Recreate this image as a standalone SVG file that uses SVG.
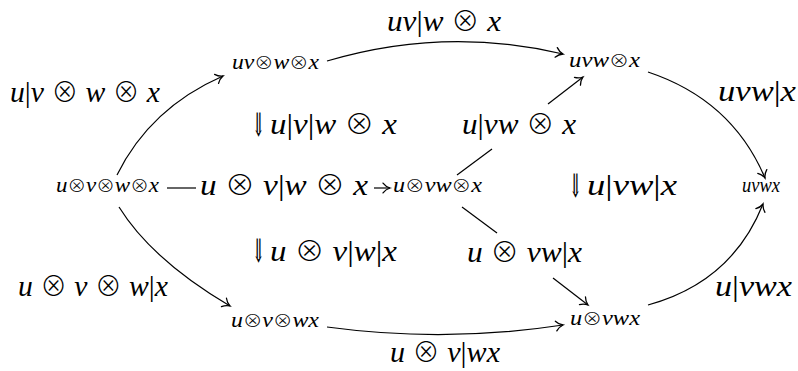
<svg xmlns="http://www.w3.org/2000/svg" width="798" height="371" viewBox="0 0 798 371">
<style>
.lbl{font-family:"Liberation Serif",serif;font-style:italic;font-size:30px;fill:#000}
.nd{font-family:"Liberation Serif",serif;font-style:italic;font-size:21px;fill:#000}
.op{font-style:normal;font-family:"Noto Sans CJK JP","Noto Sans CJK SC","DejaVu Sans",sans-serif;font-weight:300}
.lbl .op{font-size:27px}
.nd .op{font-size:17px}
.bar{font-style:normal}
.dar{font-family:"Liberation Serif","DejaVu Serif",serif;font-size:26px;fill:#000}
.c{fill:none;stroke:#000;stroke-width:1.2}
</style>
<defs>
<marker id="ah" markerUnits="userSpaceOnUse" markerWidth="14" markerHeight="14" viewBox="-8 -6 10 12" refX="0" refY="0" orient="auto">
<path d="M-6,-4.2 C-4,-1.6 -1.6,-0.5 0,0 C-1.6,0.5 -4,1.6 -6,4.2" fill="none" stroke="#000" stroke-width="1.1" stroke-linecap="round"/>
</marker>
</defs>
<g id="connectors">
<path class="c" d="M117,175 Q150,108 223,76" marker-end="url(#ah)"/>
<path class="c" d="M327,61 Q445,26 563,54" marker-end="url(#ah)"/>
<path class="c" d="M648,72 Q732,100 765,178" marker-end="url(#ah)"/>
<path class="c" d="M457,175 L492,149"/>
<path class="c" d="M548,104 L583,77" marker-end="url(#ah)"/>
<path class="c" d="M119,207 Q152,260 230,306" marker-end="url(#ah)"/>
<path class="c" d="M327,327 Q445,343 563,325" marker-end="url(#ah)"/>
<path class="c" d="M462,207 L497,233"/>
<path class="c" d="M553,278 L588,305" marker-end="url(#ah)"/>
<path class="c" d="M648,305 Q732,282 763,204" marker-end="url(#ah)"/>
<path class="c" d="M167,188 L196,188"/>
<path class="c" d="M374,188 L390,188" marker-end="url(#ah)"/>
</g>
<g id="n-uv-w-x"><text class="nd" x="232" y="69" textLength="87" lengthAdjust="spacingAndGlyphs">uv<tspan class="op">⊗</tspan>w<tspan class="op">⊗</tspan>x</text></g>
<g id="n-uvw-x"><text class="nd" x="569" y="67" textLength="71" lengthAdjust="spacingAndGlyphs">uvw<tspan class="op">⊗</tspan>x</text></g>
<g id="n-u-v-w-x"><text class="nd" x="56" y="192" textLength="103" lengthAdjust="spacingAndGlyphs">u<tspan class="op">⊗</tspan>v<tspan class="op">⊗</tspan>w<tspan class="op">⊗</tspan>x</text></g>
<g id="n-u-vw-x"><text class="nd" x="393" y="192" textLength="89" lengthAdjust="spacingAndGlyphs">u<tspan class="op">⊗</tspan>vw<tspan class="op">⊗</tspan>x</text></g>
<g id="n-uvwx"><text class="nd" x="742" y="192" textLength="38" lengthAdjust="spacingAndGlyphs">uvwx</text></g>
<g id="n-u-v-wx"><text class="nd" x="231" y="327" textLength="88" lengthAdjust="spacingAndGlyphs">u<tspan class="op">⊗</tspan>v<tspan class="op">⊗</tspan>wx</text></g>
<g id="n-u-vwx"><text class="nd" x="570" y="325" textLength="70" lengthAdjust="spacingAndGlyphs">u<tspan class="op">⊗</tspan>vwx</text></g>
<g id="labels">
<text class="lbl" x="387" y="31" textLength="114" lengthAdjust="spacingAndGlyphs">uv<tspan class="bar">|</tspan>w <tspan class="op">⊗</tspan> x</text>
<text class="lbl" x="10" y="102" textLength="150" lengthAdjust="spacingAndGlyphs">u<tspan class="bar">|</tspan>v <tspan class="op">⊗</tspan> w <tspan class="op">⊗</tspan> x</text>
<text class="dar" transform="translate(252,136) scale(0.6,1.25)">⇓</text>
<text class="lbl" x="270" y="134" textLength="127" lengthAdjust="spacingAndGlyphs">u<tspan class="bar">|</tspan>v<tspan class="bar">|</tspan>w <tspan class="op">⊗</tspan> x</text>
<text class="lbl" x="718" y="101" textLength="78" lengthAdjust="spacingAndGlyphs">uvw<tspan class="bar">|</tspan>x</text>
<text class="lbl" x="462" y="134" textLength="114" lengthAdjust="spacingAndGlyphs">u<tspan class="bar">|</tspan>vw <tspan class="op">⊗</tspan> x</text>
<text class="lbl" x="200" y="195" textLength="168" lengthAdjust="spacingAndGlyphs">u <tspan class="op">⊗</tspan> v<tspan class="bar">|</tspan>w <tspan class="op">⊗</tspan> x</text>
<text class="dar" transform="translate(569,197) scale(0.6,1.25)">⇓</text>
<text class="lbl" x="587" y="195" textLength="90" lengthAdjust="spacingAndGlyphs">u<tspan class="bar">|</tspan>vw<tspan class="bar">|</tspan>x</text>
<text class="dar" transform="translate(252,262) scale(0.6,1.25)">⇓</text>
<text class="lbl" x="270" y="261" textLength="127" lengthAdjust="spacingAndGlyphs">u <tspan class="op">⊗</tspan> v<tspan class="bar">|</tspan>w<tspan class="bar">|</tspan>x</text>
<text class="lbl" x="467" y="262" textLength="115" lengthAdjust="spacingAndGlyphs">u <tspan class="op">⊗</tspan> vw<tspan class="bar">|</tspan>x</text>
<text class="lbl" x="18" y="296" textLength="150" lengthAdjust="spacingAndGlyphs">u <tspan class="op">⊗</tspan> v <tspan class="op">⊗</tspan> w<tspan class="bar">|</tspan>x</text>
<text class="lbl" x="715" y="296" textLength="77" lengthAdjust="spacingAndGlyphs">u<tspan class="bar">|</tspan>vwx</text>
<text class="lbl" x="390" y="362" textLength="110" lengthAdjust="spacingAndGlyphs">u <tspan class="op">⊗</tspan> v<tspan class="bar">|</tspan>wx</text>
</g>
</svg>
